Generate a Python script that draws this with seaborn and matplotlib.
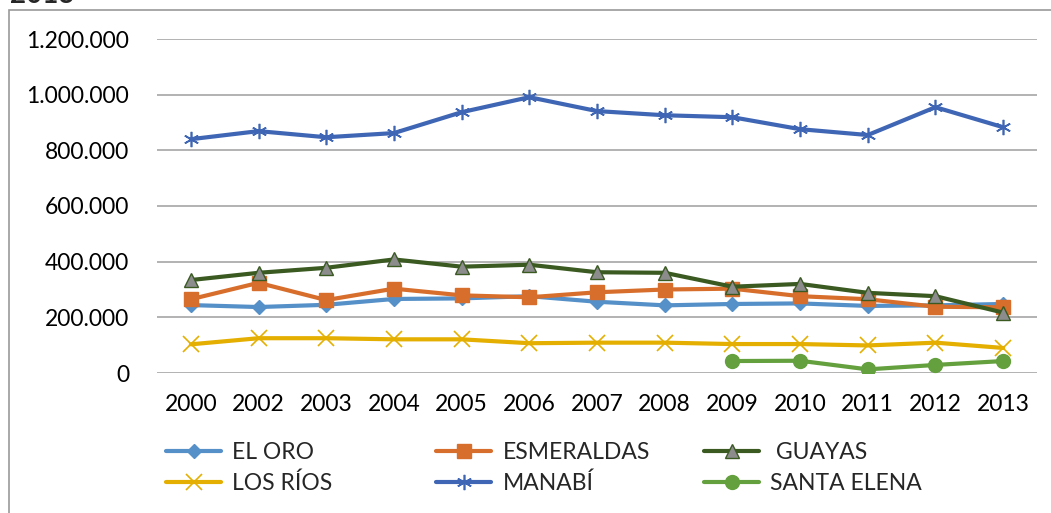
import numpy as np
import matplotlib
matplotlib.use('Agg')
import matplotlib.pyplot as plt
import matplotlib.ticker as mticker
from matplotlib.patches import Rectangle
import seaborn as sns
import pandas as pd

years = ['2000', '2002', '2003', '2004', '2005', '2006', '2007',
         '2008', '2009', '2010', '2011', '2012', '2013']

el_oro = [244, 237, 245, 266, 268, 276, 256, 243, 248, 250, 241, 243, 248]
esmeraldas = [265, 324, 262, 303, 279, 272, 290, 300, 303, 276, 265, 238, 236]
guayas = [334, 360, 378, 408, 382, 389, 362, 360, 310, 320, 288, 276, 217]
los_rios = [103, 125, 125, 121, 121, 107, 109, 109, 104, 104, 99, 109, 90]
manabi = [840, 869, 847, 862, 937, 991, 941, 926, 919, 876, 855, 955, 883]
santa_elena = [None, None, None, None, None, None, None, None, 43, 44, 13, 29, 43]

series_names = ['EL ORO', 'ESMERALDAS', ' GUAYAS', 'LOS RÍOS', 'MANABÍ', 'SANTA ELENA']
series_vals = [el_oro, esmeraldas, guayas, los_rios, manabi, santa_elena]

sns.set_style('white')
plt.rcParams['font.family'] = ['Lato', 'DejaVu Sans']

rows = []
for name, vals in zip(series_names, series_vals):
    for yr, v in zip(years, vals):
        rows.append({'year': yr, 'serie': name,
                     'value': np.nan if v is None else v * 1000})
df = pd.DataFrame(rows)

styles = {
    'EL ORO':      dict(color='#5590C8', marker='D', ms=7.5, mfc='#5590C8', mec='#5590C8', mew=1),
    'ESMERALDAS':  dict(color='#D86E2B', marker='s', ms=10, mfc='#D86E2B', mec='#D86E2B', mew=1),
    ' GUAYAS':     dict(color='#3A5A22', marker='^', ms=10, mfc='#8C8C8C', mec='#3A5A22', mew=1),
    'LOS RÍOS':    dict(color='#E4AF00', marker='x', ms=11, mfc='#E4AF00', mec='#E4AF00', mew=1.2),
    'MANABÍ':      dict(color='#3F66B4', marker=(6, 2, 0), ms=11, mfc='#3F66B4', mec='#3F66B4', mew=1.2),
    'SANTA ELENA': dict(color='#64A03E', marker='o', ms=10, mfc='#64A03E', mec='#64A03E', mew=1),
}

fig = plt.figure(figsize=(10.51, 5.13), dpi=100)
ax = fig.add_axes([157 / 1051, 1 - 373 / 513, 880 / 1051, (373 - 39) / 513])

x = np.arange(len(years))
handles = {}
for name in series_names:
    sub = df[df['serie'] == name]
    st = styles[name]
    sns.lineplot(x=x, y=sub['value'].values, ax=ax, color=st['color'], lw=3,
                 legend=False)
    ln = ax.lines[-1]
    ln.set(marker=st['marker'], markersize=st['ms'], markerfacecolor=st['mfc'],
           markeredgecolor=st['mec'], markeredgewidth=st['mew'])
    handles[name] = ln

ax.set_xlim(-0.5, len(years) - 0.5)
ax.set_ylim(0, 1200000)
ax.set_yticks(np.arange(0, 1200001, 200000))
ax.yaxis.set_major_formatter(mticker.FuncFormatter(lambda v, p: f'{int(v):,}'.replace(',', '.')))
ax.set_xticks(x)
ax.set_xticklabels(years)
ax.tick_params(axis='both', labelsize=16.5, length=0, colors='black')
ax.tick_params(axis='y', pad=20)
ax.tick_params(axis='x', pad=15)
ax.grid(axis='y', color='#A6A6A6', lw=1.2)
ax.set_axisbelow(True)
for s in ax.spines.values():
    s.set_visible(False)
ax.set_xlabel('')
ax.set_ylabel('')

# legend: three columns of two, placed like the Excel legend
col_x = [166, 436, 704]
for i, cx in enumerate(col_x):
    names = [series_names[i], series_names[i + 3]]
    fig.legend([handles[n] for n in names], names, loc='center left',
               bbox_to_anchor=(cx / 1051, 1 - 468 / 513), frameon=False,
               fontsize=16.5, handlelength=2.4, handletextpad=0.5,
               labelspacing=0.45, borderpad=0, borderaxespad=0)

fig.patches.append(Rectangle((9 / 1051, -0.1), 1.2, 1 - 10 / 513 + 0.1,
                             transform=fig.transFigure, fill=False,
                             edgecolor='#9A9A9A', lw=1.2))
fig.text(10 / 1051, 1 - 3 / 513, '2013', fontsize=20, fontweight='bold',
         ha='left', va='baseline')

fig.savefig('out.png', dpi=100)
